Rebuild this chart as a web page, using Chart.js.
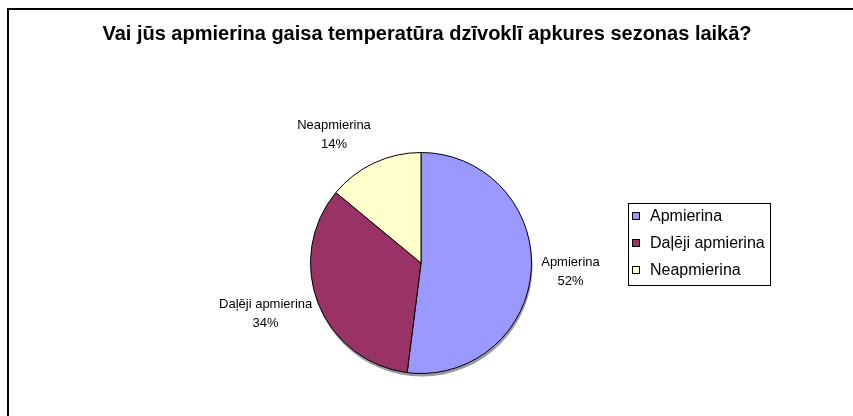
<!DOCTYPE html>
<html>
<head>
<meta charset="utf-8">
<script src="https://cdn.jsdelivr.net/npm/chart.js@4/dist/chart.umd.min.js"></script>
<style>
  html, body { margin: 0; padding: 0; background: #fff; }
  #wrap { width: 853px; height: 416px; position: relative; }
</style>
</head>
<body>
<div id="wrap"><canvas id="chart" width="853" height="416"></canvas></div>
<script>
// data
const categories = ['Apmierina', 'Daļēji apmierina', 'Neapmierina'];
const shares = [52, 34, 14];
const sliceColors = ['#9999FF', '#993366', '#FFFFCC'];
const titleText = 'Vai jūs apmierina gaisa temperatūra dzīvoklī apkures sezonas laikā?';

const FONT = '"Liberation Sans", Arial, sans-serif';
// small manual nudges for the outside labels (excel moves some of them)
const labelNudge = [[0, 0], [0, 0], [-20, -4]];

// frame + title + shadow under the pie
const decoPlugin = {
  id: 'deco',
  beforeDraw(chart) {
    const ctx = chart.ctx;
    ctx.save();
    ctx.fillStyle = '#fff';
    ctx.fillRect(0, 0, chart.width, chart.height);
    ctx.strokeStyle = '#000';
    ctx.lineWidth = 2;
    ctx.strokeRect(8, 9, chart.width + 20, chart.height + 20);
    ctx.fillStyle = '#000';
    ctx.font = 'bold 20px ' + FONT;
    ctx.textAlign = 'center';
    ctx.textBaseline = 'middle';
    ctx.fillText(titleText, 427, 34);
    ctx.restore();
  },
  beforeDatasetsDraw(chart) {
    const arc = chart.getDatasetMeta(0).data[0];
    if (!arc) return;
    const ctx = chart.ctx;
    ctx.save();
    ctx.fillStyle = '#9a9a9a';
    ctx.beginPath();
    ctx.arc(arc.x + 1, arc.y + 3, arc.outerRadius, 0, Math.PI * 2);
    ctx.fill();
    ctx.restore();
  }
};

// labels outside the slices: name + percentage
const outsideLabels = {
  id: 'outsideLabels',
  afterDatasetsDraw(chart) {
    const ctx = chart.ctx;
    const meta = chart.getDatasetMeta(0);
    ctx.save();
    ctx.font = '13px ' + FONT;
    ctx.fillStyle = '#000';
    ctx.textAlign = 'center';
    ctx.textBaseline = 'middle';
    meta.data.forEach((arc, i) => {
      const mid = (arc.startAngle + arc.endAngle) / 2;
      const ux = Math.cos(mid), uy = Math.sin(mid);
      const w = ctx.measureText(categories[i]).width;
      const h = 34;
      const r = arc.outerRadius + 10;
      const cx = arc.x + ux * r + ux * w / 2 + labelNudge[i][0];
      const cy = arc.y + uy * r + uy * h / 2 + labelNudge[i][1];
      ctx.fillText(categories[i], cx, cy - 9);
      ctx.fillText(shares[i] + '%', cx, cy + 10);
    });
    ctx.restore();
  }
};

// legend box on the right
const boxLegend = {
  id: 'boxLegend',
  afterDraw(chart) {
    const ctx = chart.ctx;
    const x0 = 628, y0 = 203, bw = 142, rowH = 27;
    const bh = rowH * categories.length + 1;
    ctx.save();
    ctx.fillStyle = '#fff';
    ctx.fillRect(x0, y0, bw, bh);
    ctx.strokeStyle = '#000';
    ctx.lineWidth = 1;
    ctx.strokeRect(x0 + 0.5, y0 + 0.5, bw, bh);
    ctx.font = '16px ' + FONT;
    ctx.textBaseline = 'middle';
    categories.forEach((c, i) => {
      const yc = y0 + 13 + i * rowH;
      ctx.fillStyle = sliceColors[i];
      ctx.fillRect(632, yc - 4, 8, 8);
      ctx.strokeStyle = '#000';
      ctx.strokeRect(632.5, yc - 3.5, 7, 7);
      ctx.fillStyle = '#000';
      ctx.fillText(c, 650, yc + 1);
    });
    ctx.restore();
  }
};

new Chart(document.getElementById('chart'), {
  type: 'pie',
  data: {
    labels: categories,
    datasets: [{
      data: shares,
      backgroundColor: sliceColors,
      borderColor: '#000',
      borderWidth: 1
    }]
  },
  options: {
    responsive: false,
    animation: false,
    events: [],
    layout: { padding: { left: 310, right: 321, top: 152, bottom: 42 } },
    plugins: {
      legend: { display: false },
      title: { display: false },
      tooltip: { enabled: false }
    }
  },
  plugins: [decoPlugin, outsideLabels, boxLegend]
});
</script>
</body>
</html>
